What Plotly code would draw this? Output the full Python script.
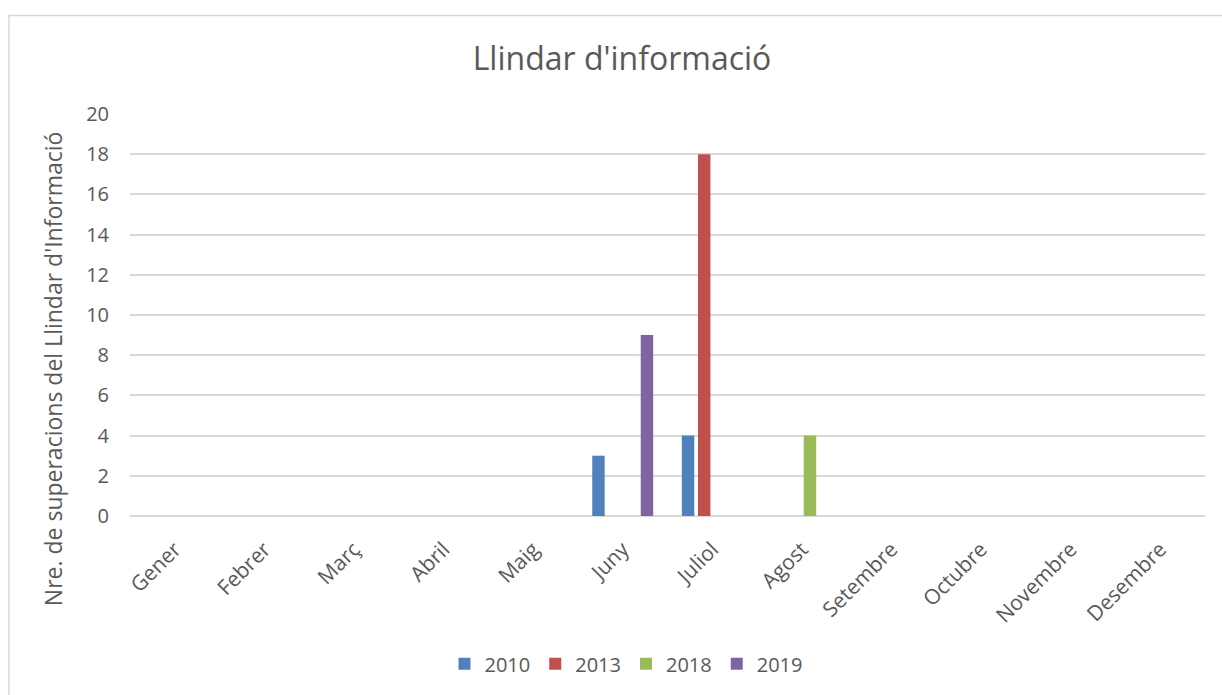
import plotly.graph_objects as go

months = ["Gener", "Febrer", "Març", "Abril", "Maig", "Juny", "Juliol",
          "Agost", "Setembre", "Octubre", "Novembre", "Desembre"]

series_names = ["2010", "2013", "2018", "2019"]
vals_2010 = [0, 0, 0, 0, 0, 3, 4, 0, 0, 0, 0, 0]
vals_2013 = [0, 0, 0, 0, 0, 0, 18, 0, 0, 0, 0, 0]
vals_2018 = [0, 0, 0, 0, 0, 0, 0, 4, 0, 0, 0, 0]
vals_2019 = [0, 0, 0, 0, 0, 9, 0, 0, 0, 0, 0, 0]
colors = ["#4F81BD", "#C0504D", "#9BBB59", "#8064A2"]

y_ticks = list(range(0, 21, 2))
y_title = "Nre. de superacions del Llindar d'Informació"

FONT = "'Open Sans', sans-serif"
GREY = "#595959"

fig = go.Figure()
for name, vals, col in zip(series_names, [vals_2010, vals_2013, vals_2018, vals_2019], colors):
    fig.add_trace(go.Bar(x=months, y=vals, name=name, marker_color=col,
                         marker_line_width=0))

W, H = 1222, 695
L, R, T, B = 130, 17, 114, 173
pw, ph = W - L - R, H - T - B

fig.update_layout(
    width=W, height=H,
    margin=dict(l=L, r=R, t=T, b=B),
    paper_bgcolor="white", plot_bgcolor="white",
    barmode="group", bargap=0.278, bargroupgap=0.23,
    font=dict(family=FONT, color=GREY, size=20),
    title=dict(text="Llindar d'informació", x=622 / W, xanchor="center",
               y=1 - 59 / H, yanchor="middle",
               font=dict(size=32, color=GREY, family=FONT)),
    legend=dict(orientation="h", x=(626 - L) / pw, xanchor="center",
                y=-(672 - T - ph) / ph, yanchor="middle",
                font=dict(size=20, color=GREY), itemwidth=30,
                traceorder="normal"),
    showlegend=True,
)

fig.update_xaxes(showgrid=False, showline=False, ticks="", tickangle=-45,
                 ticklabelstandoff=16, automargin=False,
                 tickfont=dict(size=21, color=GREY, family=FONT))
fig.update_yaxes(range=[0, 20], tickvals=y_ticks, showgrid=True,
                 gridcolor="#D9D9D9", gridwidth=1.5, zeroline=True,
                 zerolinecolor="#D9D9D9", zerolinewidth=1.5, showline=False,
                 ticks="", ticklen=0, ticklabelstandoff=20, automargin=False,
                 tickfont=dict(size=20, color=GREY, family=FONT))

# vertical axis title, placed slightly below the plot's middle
fig.add_annotation(text=y_title, textangle=-90, showarrow=False,
                   xref="paper", yref="paper",
                   x=(53 - L) / pw, y=(H - B - 373) / ph,
                   xanchor="center", yanchor="middle",
                   font=dict(size=23, color=GREY, family=FONT))

# chart frame (top and left edges visible; the rest runs off the page)
fig.add_shape(type="rect", xref="paper", yref="paper",
              x0=(9 - L) / pw, x1=(W + 20 - L) / pw,
              y0=-(H + 20 - T - ph) / ph, y1=(H - B - 14) / ph,
              line=dict(color="#D9D9D9", width=1.5), fillcolor="rgba(0,0,0,0)",
              layer="below")

fig.write_html("out.html")
